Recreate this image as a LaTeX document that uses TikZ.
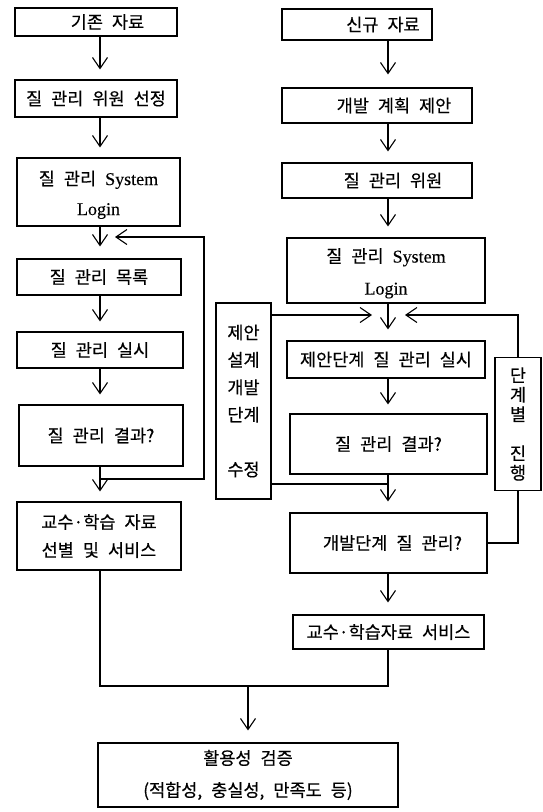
\documentclass[tikz,border=0pt]{standalone}
\usepackage{fontspec}
\setmainfont{Noto Sans CJK KR}[WordSpace=2.3, FakeBold=0.4]
\newfontfamily\latf{Liberation Serif}[FakeBold=0.3]
\usetikzlibrary{arrows.meta}
\tikzset{
  box/.style={draw, line width=1.1pt, align=center, inner sep=0pt,
    font=\fontsize{17.5}{28}\selectfont},
  side/.style={draw, line width=1.1pt, align=center, inner sep=0pt,
    font=\fontsize{17.5}{27.4}\selectfont},
  conn/.style={line width=1.1pt},
  arr/.style={line width=1.1pt, -{Straight Barb[length=11pt,width=15pt,line width=1.1pt]}},
}
\newcommand{\lt}[1]{{\latf\fontsize{18}{28}\selectfont #1}}
\begin{document}
\begin{tikzpicture}[x=1pt,y=-1pt]
\useasboundingbox (0,0) rectangle (543,812);
% left column
\node[box, minimum width=162pt, minimum height=28pt] (L1) at (96,22) {\hspace*{23pt}기존 자료};
\node[box, minimum width=162pt, minimum height=37pt] (L2) at (96,98.5) {질 관리 위원 선정};
\node[box, minimum width=163pt, minimum height=68pt, font=\fontsize{17.5}{30}\selectfont] (L3) at (98.5,192) {\rule{0pt}{20pt}질 관리 \lt{System}\\ \lt{Login}};
\node[box, minimum width=164pt, minimum height=36pt] (L4) at (99,277) {질 관리 목록};
\node[box, minimum width=166pt, minimum height=36pt] (L5) at (100,350) {질 관리 실시};
\node[box, minimum width=164pt, minimum height=61pt] (L6) at (101,435.5) {질 관리 결과?};
\node[box, minimum width=164pt, minimum height=68pt] (L7) at (99,536) {교수·학습 자료\\ 선별 및 서비스};
% right column
\node[box, minimum width=150pt, minimum height=31pt] (R1) at (357,24.5) {\hspace*{52pt}신규 자료};
\node[box, minimum width=190pt, minimum height=35pt] (R2) at (377,105.5) {\hspace*{34pt}개발 계획 제안};
\node[box, minimum width=190pt, minimum height=35pt] (R3) at (377,180.5) {\hspace*{32pt}질 관리 위원};
\node[box, minimum width=198pt, minimum height=65pt, font=\fontsize{17.5}{32}\selectfont] (R4) at (386,270.5) {\rule{0pt}{20pt}질 관리 \lt{System}\\ \lt{Login}};
\node[box, minimum width=198pt, minimum height=37pt] (R5) at (386,359.5) {제안단계 질 관리 실시};
\node[box, minimum width=197pt, minimum height=60pt] (R6) at (388.5,444) {질 관리 결과?};
\node[box, minimum width=197pt, minimum height=60pt] (R7) at (388.5,543) {\hspace*{8pt}개발단계 질 관리?};
\node[box, minimum width=191pt, minimum height=34pt] (R8) at (388.5,632) {교수·학습자료 서비스};
% side boxes
\node[side, minimum width=55pt, minimum height=196pt] (SL) at (243.5,401) {제안\\설계\\개발\\단계\\[27.4pt]수정};
\node[side, minimum width=46pt, minimum height=133pt, font=\fontsize{17.5}{19.5}\selectfont] (SR) at (518,424) {단\\계\\별\\[19.5pt]진\\행};
% final box
\node[box, minimum width=300pt, minimum height=64pt, font=\fontsize{17.5}{32}\selectfont] (F) at (248,775) {활용성 검증\\(적합성, 충실성, 만족도 등)};
% reference coordinates
\coordinate (ax) at (100,0);
\coordinate (bx) at (388,0);
% left arrows
\draw[arr, shorten >=10pt] (L1.south -| ax) -- (L2.north -| ax);
\draw[arr, shorten >=10pt] (L2.south -| ax) -- (L3.north -| ax);
\draw[arr, shorten >=12pt] (L3.south -| ax) -- (L4.north -| ax);
\draw[arr, shorten >=10pt] (L4.south -| ax) -- (L5.north -| ax);
\draw[arr, shorten >=10pt] (L5.south -| ax) -- (L6.north -| ax);
\draw[arr, shorten >=10pt] (L6.south -| ax) -- (L7.north -| ax);
% left feedback
\coordinate (fbTop) at (204,237);
\coordinate (fbBot) at (204,479);
\coordinate (fbTip) at (115,237);
\draw[arr] (ax |- fbBot) -- (fbBot) -- (fbTop) -- (fbTip);
% right arrows
\draw[arr, shorten >=13pt] (R1.south -| bx) -- (R2.north -| bx);
\draw[arr, shorten >=11pt] (R2.south -| bx) -- (R3.north -| bx);
\draw[arr, shorten >=11pt] (R3.south -| bx) -- (R4.north -| bx);
\draw[arr, shorten >=11pt] (R4.south -| bx) -- (R5.north -| bx);
\draw[arr, shorten >=9pt] (R5.south -| bx) -- (R6.north -| bx);
\draw[arr, shorten >=11pt] (R6.south -| bx) -- (R7.north -| bx);
\draw[arr, shorten >=12pt] (R7.south -| bx) -- (R8.north -| bx);
% side connectors
\coordinate (ml) at (372,315);
\coordinate (mr) at (405,315);
\coordinate (jl) at (388,484);
\draw[arr] (SL.east |- ml) -- (ml);
\draw[arr] (SR.north) -- (SR.north |- mr) -- (mr);
\draw[conn] (SL.east |- jl) -- (jl);
\draw[conn] (R7.east) -- (R7.east -| SR.south) -- (SR.south);
% bottom merge
\coordinate (mb) at (248,686);
\draw[conn] (L7.south -| ax) -- (ax |- mb) -- (bx |- mb) -- (R8.south -| bx);
\draw[arr, shorten >=12pt] (mb) -- (F.north -| mb);
\end{tikzpicture}
\end{document}
